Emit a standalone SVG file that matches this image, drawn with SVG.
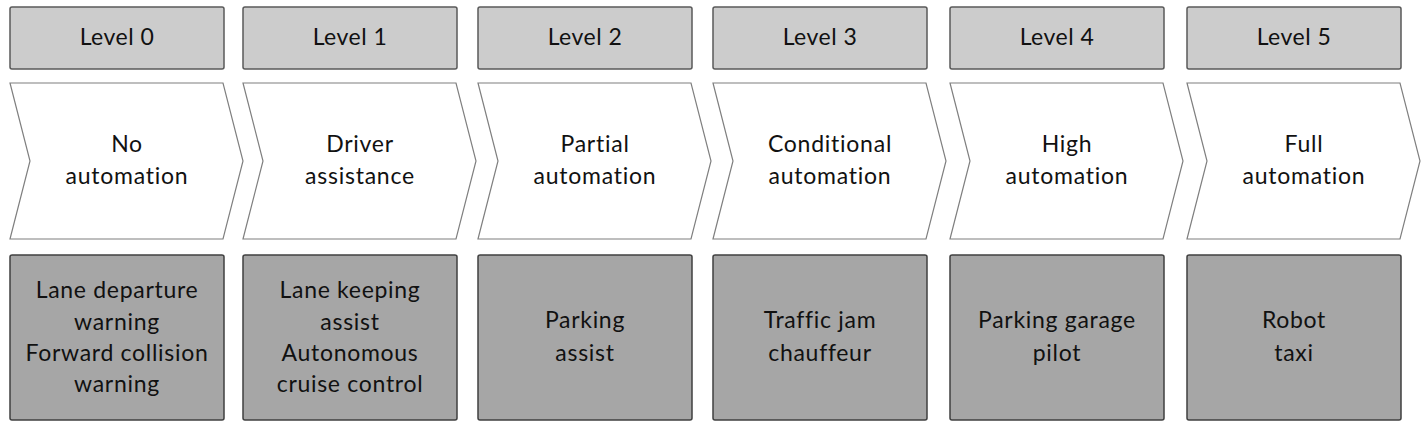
<svg xmlns="http://www.w3.org/2000/svg" width="1428" height="428" viewBox="0 0 1428 428">
<style>
.bg{fill:#ffffff}
.lvl{fill:#cccccc;stroke:#595959;stroke-width:1.5}
.chev{fill:#ffffff;stroke:#7f7f7f;stroke-width:1.2;stroke-linejoin:miter}
.ex{fill:#a6a6a6;stroke:#404040;stroke-width:1.5}
text{font-family:Lato,"Liberation Sans",sans-serif;fill:#111111;text-anchor:middle;font-size:23px}
.t1{letter-spacing:0.5px}
.t2{letter-spacing:0.75px}
.t3{letter-spacing:0.7px}
</style>
<rect class="bg" x="0" y="0" width="1428" height="428"/>
<g id="level0">
<rect class="lvl" x="10" y="7" width="214" height="62" rx="2"/>
<text class="t1" x="117" y="45">Level 0</text>
<path class="chev" d="M10,83 L223,83 L243,161 L223,239 L10,239 L30,161 Z"/>
<text class="t2" x="127" y="152">No</text>
<text class="t2" x="127" y="184">automation</text>
<rect class="ex" x="10" y="255" width="214" height="165" rx="2"/>
<text class="t3" x="117" y="298">Lane departure</text>
<text class="t3" x="117" y="330">warning</text>
<text class="t3" x="117" y="361">Forward collision</text>
<text class="t3" x="117" y="392">warning</text>
</g>
<g id="level1">
<rect class="lvl" x="243" y="7" width="214" height="62" rx="2"/>
<text class="t1" x="350" y="45">Level 1</text>
<path class="chev" d="M243,83 L456,83 L476,161 L456,239 L243,239 L263,161 Z"/>
<text class="t2" x="360" y="152">Driver</text>
<text class="t2" x="360" y="184">assistance</text>
<rect class="ex" x="243" y="255" width="214" height="165" rx="2"/>
<text class="t3" x="350" y="298">Lane keeping</text>
<text class="t3" x="350" y="330">assist</text>
<text class="t3" x="350" y="361">Autonomous</text>
<text class="t3" x="350" y="392">cruise control</text>
</g>
<g id="level2">
<rect class="lvl" x="478" y="7" width="214" height="62" rx="2"/>
<text class="t1" x="585" y="45">Level 2</text>
<path class="chev" d="M478,83 L691,83 L711,161 L691,239 L478,239 L498,161 Z"/>
<text class="t2" x="595" y="152">Partial</text>
<text class="t2" x="595" y="184">automation</text>
<rect class="ex" x="478" y="255" width="214" height="165" rx="2"/>
<text class="t3" x="585" y="328">Parking</text>
<text class="t3" x="585" y="361">assist</text>
</g>
<g id="level3">
<rect class="lvl" x="713" y="7" width="214" height="62" rx="2"/>
<text class="t1" x="820" y="45">Level 3</text>
<path class="chev" d="M713,83 L926,83 L946,161 L926,239 L713,239 L733,161 Z"/>
<text class="t2" x="830" y="152">Conditional</text>
<text class="t2" x="830" y="184">automation</text>
<rect class="ex" x="713" y="255" width="214" height="165" rx="2"/>
<text class="t3" x="820" y="328">Traffic jam</text>
<text class="t3" x="820" y="361">chauffeur</text>
</g>
<g id="level4">
<rect class="lvl" x="950" y="7" width="214" height="62" rx="2"/>
<text class="t1" x="1057" y="45">Level 4</text>
<path class="chev" d="M950,83 L1163,83 L1183,161 L1163,239 L950,239 L970,161 Z"/>
<text class="t2" x="1067" y="152">High</text>
<text class="t2" x="1067" y="184">automation</text>
<rect class="ex" x="950" y="255" width="214" height="165" rx="2"/>
<text class="t3" x="1057" y="328">Parking garage</text>
<text class="t3" x="1057" y="361">pilot</text>
</g>
<g id="level5">
<rect class="lvl" x="1187" y="7" width="214" height="62" rx="2"/>
<text class="t1" x="1294" y="45">Level 5</text>
<path class="chev" d="M1187,83 L1400,83 L1420,161 L1400,239 L1187,239 L1207,161 Z"/>
<text class="t2" x="1304" y="152">Full</text>
<text class="t2" x="1304" y="184">automation</text>
<rect class="ex" x="1187" y="255" width="214" height="165" rx="2"/>
<text class="t3" x="1294" y="328">Robot</text>
<text class="t3" x="1294" y="361">taxi</text>
</g>
<g id="connectors"></g>
</svg>
